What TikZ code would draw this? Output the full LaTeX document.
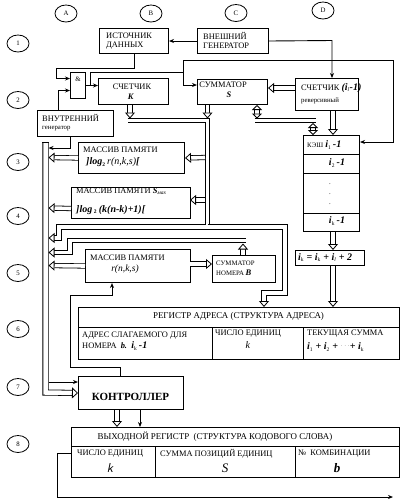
\documentclass[tikz,border=0pt]{standalone}
\usepackage{fontspec}
\setmainfont{Liberation Serif}
\usetikzlibrary{arrows.meta,shapes.geometric,calc}
\newcommand\bi[1]{\textbf{\textit{#1}}}
\newcommand\ftm{\fontsize{8.4}{9.5}\selectfont}
\newcommand\fth{\fontsize{8.9}{10}\selectfont}
\newcommand\fts{\fontsize{6.8}{8}\selectfont}
\newcommand\ftx{\fontsize{5.5}{6}\selectfont}
\newcommand\ftb{\fontsize{10}{12}\selectfont}
\newcommand\sbs[1]{\textsubscript{\ftx #1}}
\begin{document}
\begin{tikzpicture}[x=1pt,y=-1pt,
  box/.style={draw, line width=1pt, inner sep=0pt, anchor=north west},
  sep/.style={line width=1pt},
  lab/.style={inner sep=0pt, font=\ftm},
  hdr/.style={inner sep=0pt, font=\fth},
  sml/.style={inner sep=0pt, font=\fts},
  circ/.style={draw, ellipse, line width=0.8pt, minimum width=22pt, minimum height=17pt, inner sep=0pt, font=\fts},
  wire/.style={line width=0.9pt},
  arr/.style={wire, -{Stealth[length=5pt, width=4pt]}},
  bus/.style={double, double distance=3.6pt, line width=0.8pt},
  hol/.style={bus, -{Triangle[length=6pt, width=10pt, fill=white, line width=0.8pt]}},
  hol2/.style={bus, {Triangle[length=5pt, width=10pt, fill=white, line width=0.8pt]}-{Triangle[length=5pt, width=10pt, fill=white, line width=0.8pt]}},
]
\useasboundingbox (0,0) rectangle (401,499);

% column / row markers
\node[circ] (cA) at (66,13.5) {A};
\node[circ] (cB) at (151,13.5) {B};
\node[circ] (cC) at (236,13) {C};
\node[circ] (cD) at (323,10.5) {D};
\node[circ] (r1) at (18,43.5) {1};
\node[circ] (r2) at (18,100) {2};
\node[circ] (r3) at (18,162) {3};
\node[circ] (r4) at (18,216) {4};
\node[circ] (r5) at (18,273) {5};
\node[circ] (r6) at (18,329) {6};
\node[circ] (r7) at (18,387) {7};
\node[circ] (r8) at (18,444) {8};

% boxes
\node[box, minimum width=69pt, minimum height=25pt] (src) at (99,28) {};
\node[box, minimum width=71pt, minimum height=25pt] (ext) at (197,28) {};
\node[box, minimum width=15pt, minimum height=26pt] (gate) at (70,72) {};
\node[box, minimum width=70pt, minimum height=26pt] (cntK) at (98,78) {};
\node[box, minimum width=70pt, minimum height=25pt] (sumS) at (197,79) {};
\node[box, minimum width=63pt, minimum height=32pt] (cntI) at (295,78) {};
\node[box, minimum width=76pt, minimum height=26pt] (gen) at (37,110) {};
\node[box, minimum width=106pt, minimum height=31pt] (memA) at (78,142) {};
\node[box, minimum width=119pt, minimum height=31pt] (memB) at (71,187) {};
\node[box, minimum width=56pt, minimum height=96pt] (cache) at (303,135) {};
\node[box, minimum width=69pt, minimum height=15pt] (form) at (295,250) {};
\node[box, minimum width=105pt, minimum height=33pt] (memC) at (85,249) {};
\node[box, minimum width=63pt, minimum height=27pt] (sumB) at (212,255) {};
\node[box, minimum width=321pt, minimum height=52pt] (reg) at (78,307) {};
\node[box, minimum width=105pt, minimum height=33pt] (ctrl) at (78,376) {};
\node[box, minimum width=328pt, minimum height=50pt] (out) at (71,427) {};

% separators
\draw[sep] (303,154) -- (359,154) (303,173) -- (359,173) (303,213) -- (359,213);
\draw[sep] (78,327) -- (399,327) (212,327) -- (212,359) (303,327) -- (303,359);
\draw[sep] (71,446) -- (399,446) (155,446) -- (155,477) (295,446) -- (295,477);

% texts
\node[lab, anchor=west] at (106,36) {ИСТОЧНИК};
\node[lab, anchor=west] at (106,45.5) {ДАННЫХ};
\node[lab, anchor=west] at (203,35.5) {ВНЕШНИЙ};
\node[lab, anchor=west] at (203,45.5) {ГЕНЕРАТОР};
\node[sml] at (78,79) {\&};
\node[lab] at (132,87) {СЧЕТЧИК};
\node[lab] at (131,96.5) {\bi{K}};
\node[lab] at (223,84.5) {СУММАТОР};
\node[lab] at (229,94.5) {\bi{S}};
\node[lab, anchor=west] at (301,88) {СЧЕТЧИК {\ftb\bi{(i}\sbs{\itshape l}\bi{-1)}}};
\node[sml, anchor=west] at (301,100.5) {реверсивный};
\node[lab, anchor=west] at (42,117.5) {ВНУТРЕННИЙ};
\node[sml, anchor=west] at (42,129) {генератор};
\node[lab, anchor=west] at (83,149.5) {МАССИВ ПАМЯТИ};
\node[lab, anchor=west] at (86,162.5) {\ftb\bi{]log}\sbs{\bfseries 2}\,\textit{r(n,k,s)}\bi{[}};
\node[lab, anchor=west] at (76,191.5) {МАССИВ ПАМЯТИ \bi{S}\sbs{\itshape мах}};
\node[lab, anchor=west] at (76,210) {\ftb\bi{]log}\,\sbs{\bfseries 2}\,\bi{(k(n-k)+1)[}};
\node[lab, anchor=west] at (307,145) {{\fts КЭШ} {\ftb\bi{i}\sbs{1}\bi{\,-1}}};
\node[lab] at (337,163) {\ftb\bi{i}\sbs{2}\bi{\,-1}};
\node[sml] at (330,184) {.};
\node[sml] at (330,194) {.};
\node[sml] at (330,204) {.};
\node[lab] at (337,221) {\ftb\bi{i}\sbs{k}\bi{\,-1}};
\node[lab, anchor=west] at (298,257.5) {\ftb\bi{i}\sbs{k}\bi{ = i}\sbs{k}\bi{ + i}\sbs{\itshape l}\bi{ + 2}};
\node[lab, anchor=west] at (90,258) {МАССИВ ПАМЯТИ};
\node[lab] at (125,269.5) {\fontsize{9.5}{11}\selectfont\textit{r(n,k,s)}};
\node[sml, anchor=west] at (216,263) {СУММАТОР};
\node[sml, anchor=west] at (216,273) {НОМЕРА \bi{\fontsize{8.5}{9}\selectfont B}};
\node[hdr] at (238.5,316.5) {РЕГИСТР АДРЕСА (СТРУКТУРА АДРЕСА)};
\node[lab, anchor=west] at (82,335.5) {АДРЕС СЛАГАЕМОГО ДЛЯ};
\node[lab, anchor=west] at (82,346) {НОМЕРА\ \ \bi{b.}\ \ {\ftb\bi{i}\sbs{k}\bi{\,-1}}};
\node[lab] at (248,334) {ЧИСЛО ЕДИНИЦ};
\node[lab] at (248,345.5) {\ftb\textit{k}};
\node[lab, anchor=west] at (307,334) {ТЕКУЩАЯ СУММА};
\node[lab, anchor=west] at (307,347) {\ftb\bi{i}\sbs{1}\bi{ + i}\sbs{2}\bi{ + }\raisebox{2pt}{\ftx$\cdots$}\bi{+ i}\sbs{k}};
\node[lab] at (130.5,396.5) {\fontsize{11}{13}\selectfont\bfseries КОНТРОЛЛЕР};
\node[hdr] at (215,436.5) {ВЫХОДНОЙ РЕГИСТР\ \ (СТРУКТУРА КОДОВОГО СЛОВА)};
\node[lab, anchor=west] at (77,453.5) {ЧИСЛО ЕДИНИЦ};
\node[lab] at (110,468) {\fontsize{13}{14}\selectfont\sffamily\itshape k};
\node[lab, anchor=west] at (160,453.5) {СУММА ПОЗИЦИЙ ЕДИНИЦ};
\node[lab] at (225,468) {\fontsize{13}{14}\selectfont\textit{S}};
\node[lab, anchor=west] at (298,453.5) {№\ \ КОМБИНАЦИИ};
\node[lab] at (337,468) {\fontsize{13}{14}\selectfont\bi{b}};

% ---- buses (double lines, hollow arrows)
\draw[bus, double distance=4.5pt, -{Triangle[length=6pt, width=11pt, fill=white, line width=0.8pt]}] (45.5,142) -- (45.5,392.5) -- (ctrl.west);
\draw[line width=0.8pt] (42,142) -- (49,142);

\draw[hol] (127.5,120.5) -- (207.5,120.5) -- (207.5,227) -- (59,227) -- (59,238) -- (48.5,238);
\draw[hol] (207.5,227) -- (285,227) -- (285,293) -- (264,293) -- ($(reg.north west)+(186,0)$);
\draw[hol] ($(cntK.south west)+(32,0)$) -- ++(0,13.5);
\draw[hol] ($(sumS.south west)+(10.5,0)$) -- ++(0,13.5);

\draw[hol] (205,157.5) -- (memA.east);
\draw[hol] (memA.west) -- (48.5,157.5);
\draw[hol] (205,200) -- (190,200);
\draw[hol] ($(memB.west)+(0,5.5)$) -- (48.5,208);
\draw[hol] (memC.west) -- (48.5,265.5);
\draw[hol] (190,264) -- (sumB.west |- 0,264);
\draw[hol] ($(sumB.north west)+(31,0)$) -- ++(0,-11.5);
\draw[hol] (246,240.5) -- (70,240.5) -- (70,252.5) -- (48.5,252.5);

\draw[hol] ($(cntI.south west)+(38,0)$) -- ($(cache.north west)+(30,0)$);
\draw[hol] ($(cache.south west)+(30,0)$) -- ($(form.north west)+(38,0)$);
\draw[hol] ($(form.south west)+(38,0)$) -- ($(reg.north west)+(255,0)$);
\draw[hol2] ($(sumS.south west)+(60,0)$) -- ++(0,13.5);
\draw[bus] (254.5,120.5) -- (316,120.5);
\draw[hol2] (313,123) -- ($(cache.north west)+(10,0)$);
\draw[hol] (cntI.west |- 0,88) -- (sumS.east |- 0,88);
\draw[hol] ($(ctrl.south west)+(39,0)$) -- ($(out.north west)+(46,0)$);

% ---- thin connectors
\draw[arr] (ext.west) -- (src.east);
\coordinate (pE) at (332,40.5);
\draw[arr] (ext.east) -- (pE) -- (pE |- cntI.north);
\draw[arr] (src.south) -- ++(0,14) -| ($(gate.west)+(-14,-7)$) -- ($(gate.west)+(0,-7)$);
\draw[arr] ($(gen.north west)+(21,0)$) |- ($(gate.west)+(0,5)$);
\draw[arr] (gate.east) -- (gate.east -| cntK.west);
\coordinate (j1) at (90,85);
\coordinate (j2) at (183,72);
\draw[wire] (j1) |- (j2);
\draw[arr] (j2) -- (183,60) -- (393,60) |- ($(cache.north east)+(0,7)$);
\draw[arr] (j2) |- ($(sumS.north west)+(0,6)$);
\draw[arr] ($(gen.south west)+(33,0)$) |- (48.5,148);
\draw[arr] (48.5,382) -- (ctrl.west |- 0,382);
\draw[arr] ($(ctrl.north west)+(42,0)$) -- ++(0,-9) -| (70,295) -| ($(memC.south west)+(27,0)$);
\coordinate (k1) at ($(ctrl.south west)+(62,0)$);
\draw[arr] (k1) -- (k1 |- out.north);
\draw[arr] ($(out.north west)+(0,26)$) -- ++(-14,0) -- ++(0,44) -- (393,497);
\end{tikzpicture}
\end{document}
